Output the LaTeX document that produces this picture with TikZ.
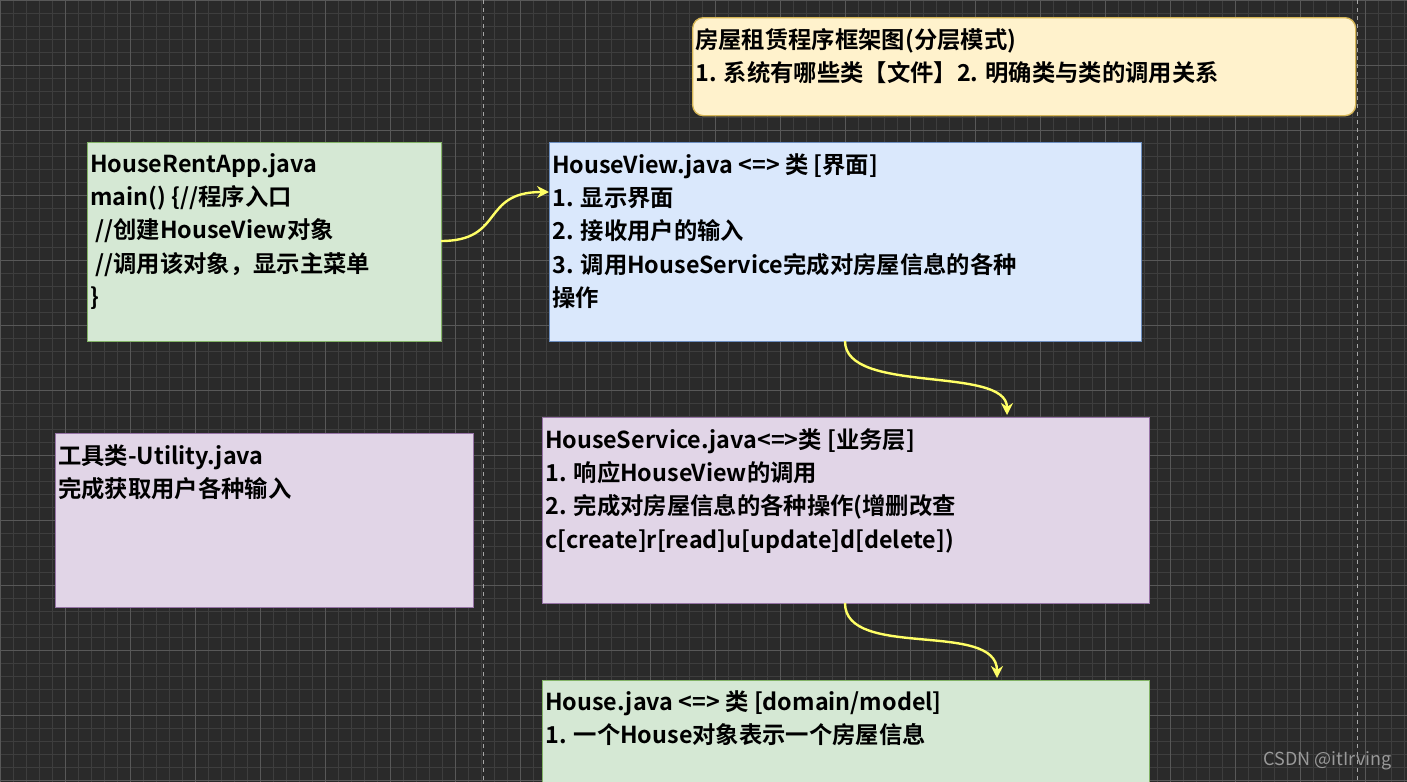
\documentclass[tikz,border=0pt]{standalone}
\usepackage{fontspec}
\setmainfont{Noto Sans CJK SC}[BoldFont={Noto Sans CJK SC Bold}]
\usetikzlibrary{arrows.meta}
\definecolor{bg}{HTML}{2A2A2A}
\definecolor{gridc}{HTML}{3E3E3E}
\definecolor{gridm}{HTML}{585858}
\definecolor{gfill}{HTML}{D5E8D4}\definecolor{gline}{HTML}{82B366}
\definecolor{bfill}{HTML}{DAE8FC}\definecolor{bline}{HTML}{6C8EBF}
\definecolor{pfill}{HTML}{E1D5E7}\definecolor{pline}{HTML}{9673A6}
\definecolor{yfill}{HTML}{FFF2CC}\definecolor{yline}{HTML}{D6B656}
\definecolor{arr}{HTML}{FFFF66}
\tikzset{
 boxst/.style={draw, line width=1pt, inner sep=0pt},
 txt/.style={anchor=north west, align=left, font=\bfseries\fontsize{17.5}{25}\selectfont, text=black, inner sep=0pt},
 conn/.style={draw=arr, line width=1.8pt, -{Stealth[length=9pt,width=9pt]}}
}
\begin{document}
\begin{tikzpicture}[x=0.75pt,y=-0.75pt]
\fill[bg] (0,0) rectangle (1407,782);
\useasboundingbox (0,0) rectangle (1407,782);
\foreach \i in {0,...,110} {\draw[gridc,line width=0.5pt] (\i*13,0) -- (\i*13,782);}
\foreach \i in {0,...,61} {\draw[gridc,line width=0.5pt] (0,\i*13) -- (1407,\i*13);}
\foreach \i in {0,...,22} {\draw[gridm,line width=0.6pt] (\i*65,0) -- (\i*65,782);}
\foreach \i in {0,...,12} {\draw[gridm,line width=0.6pt] (0,\i*65) -- (1407,\i*65);}
\draw[gray!70,dashed,line width=0.6pt] (483,0) -- (483,782);
\draw[gray!70,dashed,line width=0.6pt] (1357,0) -- (1357,782);

\node[boxst, fill=yfill, draw=yline, rounded corners=8pt, minimum width=663pt*0.75, minimum height=98pt*0.75, anchor=north west] (title) at (692,17) {};
\node[txt] (titlet) at (695,28) {房屋租赁程序框架图(分层模式)\\1. 系统有哪些类【文件】2. 明确类与类的调用关系};

\node[boxst, fill=gfill, draw=gline, minimum width=354pt*0.75, minimum height=199pt*0.75, anchor=north west] (app) at (87,142) {};
\node[txt] (appt) at (90,153) {HouseRentApp.java\\main() \{//程序入口\\\ //创建HouseView对象\\\ //调用该对象，显示主菜单\\\}};

\node[boxst, fill=bfill, draw=bline, minimum width=592pt*0.75, minimum height=199pt*0.75, anchor=north west] (view) at (549,142) {};
\node[txt] (viewt) at (552,153) {HouseView.java <=> 类 [界面]\\1. 显示界面\\2. 接收用户的输入\\3. 调用HouseService完成对房屋信息的各种\\操作};

\node[boxst, fill=pfill, draw=pline, minimum width=418pt*0.75, minimum height=174pt*0.75, anchor=north west] (util) at (55,433) {};
\node[txt] (utilt) at (58,444) {工具类-Utility.java\\完成获取用户各种输入};

\node[boxst, fill=pfill, draw=pline, minimum width=607pt*0.75, minimum height=186pt*0.75, anchor=north west] (serv) at (542,417) {};
\node[txt] (servt) at (545,428) {HouseService.java<=>类 [业务层]\\1. 响应HouseView的调用\\2. 完成对房屋信息的各种操作(增删改查\\c[create]r[read]u[update]d[delete])};

\node[boxst, fill=gfill, draw=gline, minimum width=607pt*0.75, minimum height=110pt*0.75, anchor=north west] (house) at (542,680) {};
\node[txt] (houset) at (545,690) {House.java <=> 类 [domain/model]\\1. 一个House对象表示一个房屋信息};

\coordinate (a1) at (441,241);
\coordinate (a2) at (549,192);
\draw[conn] (a1) .. controls (505,241) and (480,192) .. (a2);
\coordinate (b1) at (845,341);
\coordinate (b2) at (1007,415);
\draw[conn] (b1) .. controls (845,395) and (1007,365) .. (b2);
\coordinate (c1) at (845,603);
\coordinate (c2) at (997,678);
\draw[conn] (c1) .. controls (845,660) and (997,620) .. (c2);

\node[anchor=south east, text=gray!80, font=\fontsize{13.5}{16}\selectfont, inner sep=0pt] (wm) at (1392,770) {CSDN @itIrving};
\end{tikzpicture}
\end{document}
